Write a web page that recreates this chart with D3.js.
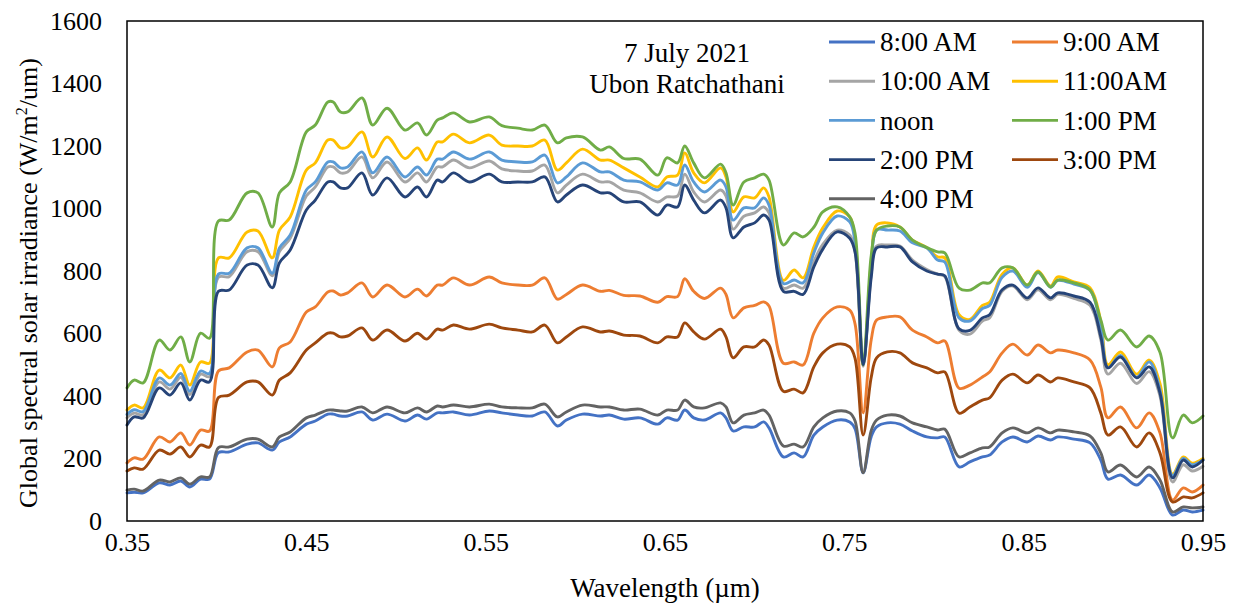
<!DOCTYPE html>
<html><head><meta charset="utf-8">
<script src="https://cdn.jsdelivr.net/npm/d3@7"></script>
<style>body{margin:0;background:#fff}svg{display:block}</style>
</head><body><svg id="c" width="1243" height="607"></svg>
<script>
const wavelength = [
0.350,0.354,0.359,0.368,0.374,0.380,0.385,0.391,0.396,
0.401,0.407,0.417,0.423,0.431,0.435,0.441,
0.450,0.455,0.462,0.465,0.469,0.473,0.481,0.487,0.495,
0.505,0.512,0.517,0.523,0.526,0.532,0.541,
0.552,0.559,0.568,0.576,0.583,0.590,0.595,
0.604,0.614,0.619,0.627,0.636,
0.646,0.651,0.657,0.661,0.666,0.672,
0.681,0.684,0.688,0.694,0.700,0.705,0.708,
0.716,0.722,0.727,0.733,0.738,0.746,0.753,
0.756,0.7605,0.765,
0.768,0.774,0.781,0.788,0.796,0.802,0.806,
0.814,0.820,0.827,0.831,0.838,0.844,
0.852,0.858,0.865,0.869,0.878,0.887,
0.893,0.897,0.904,0.913,0.920,0.926,
0.933,0.939,0.944,0.950];

const am8 = [90,92,90,122,115,128,109,134,134,
219,221,246,250,227,253,269,
310,320,342,342,336,336,349,323,342,
320,339,326,346,346,349,339,
352,346,339,336,349,304,323,
342,336,339,326,330,
310,330,323,355,330,323,
346,330,288,301,301,317,298,
205,218,205,275,301,323,317,
295,154,270,
301,314,310,288,269,266,269,
173,189,205,211,253,269,
253,272,259,269,262,250,
195,134,147,115,147,106,
19,35,29,35];

const am9 = [186,202,198,269,253,282,243,291,288,
480,490,541,547,493,554,573,
669,685,733,736,723,730,762,717,755,
717,742,720,755,755,778,755,
781,762,755,755,778,710,725,
755,735,738,722,720,
700,718,718,775,735,712,
745,725,650,682,690,701,688,
505,509,499,601,650,685,675,
630,346,580,
643,653,653,611,589,570,576,
425,435,461,477,538,566,
531,563,538,547,538,515,
429,330,365,298,346,282,
67,106,93,115];

const am10 = [330,345,340,445,422,460,405,470,462,
780,782,862,862,785,862,905,
1040,1069,1133,1133,1114,1117,1165,1098,1149,
1085,1114,1085,1133,1133,1155,1130,
1152,1127,1120,1120,1139,1050,1075,
1110,1085,1085,1059,1050,
1021,1037,1040,1110,1053,1021,
1059,1040,934,975,986,1005,986,
745,755,745,830,885,931,915,
860,495,790,
880,883,880,835,805,790,782,
610,598,640,650,735,752,
708,740,708,725,712,690,
580,470,505,440,478,400,
125,180,160,175];

const am11 = [355,371,362,483,458,499,435,509,505,
842,842,925,928,842,931,973,
1123,1146,1219,1219,1194,1197,1245,1165,1229,
1160,1194,1155,1213,1213,1238,1210,
1235,1203,1200,1200,1219,1123,1146,
1190,1155,1155,1130,1101,
1069,1101,1107,1178,1114,1082,
1130,1101,989,1037,1034,1066,1037,
770,803,778,877,938,992,973,
900,500,830,
947,954,941,899,875,845,842,
660,645,690,700,790,810,
755,800,752,781,765,746,
640,500,541,470,515,440,
150,205,185,200];

const noon = [341,356,350,458,435,472,415,480,472,
790,793,874,874,793,874,915,
1059,1085,1149,1149,1130,1133,1181,1114,1165,
1101,1133,1107,1158,1158,1181,1158,
1181,1155,1149,1149,1171,1082,1101,
1146,1117,1117,1091,1085,
1059,1082,1075,1139,1085,1053,
1091,1069,963,1002,1002,1034,1011,
760,771,762,858,922,976,957,
890,500,810,
931,931,928,890,874,835,829,
650,640,680,690,780,800,
748,795,748,770,758,738,
620,490,530,460,509,420,
145,200,180,195];

const pm1 = [426,451,442,579,547,589,509,601,585,
960,963,1050,1050,941,1050,1085,
1245,1267,1341,1341,1309,1309,1354,1267,1321,
1251,1274,1235,1283,1290,1306,1277,
1293,1265,1257,1251,1267,1210,1226,
1229,1187,1197,1160,1158,
1107,1162,1146,1200,1146,1098,
1142,1114,1011,1085,1098,1110,1091,
883,922,909,940,989,1005,973,
920,500,850,
931,944,941,899,875,861,858,
745,739,762,762,810,810,
755,797,749,771,762,739,
643,579,611,557,592,540,
266,339,314,336];

const pm2 = [307,333,330,426,403,442,387,451,445,
735,739,819,819,746,826,867,
995,1027,1085,1085,1066,1066,1114,1043,1098,
1037,1069,1037,1091,1085,1114,1085,
1110,1085,1085,1085,1101,1021,1043,
1075,1050,1050,1021,1021,
979,1011,1005,1075,1027,986,
1027,1002,906,941,954,979,963,
735,735,725,813,870,925,905,
860,500,780,
874,877,877,829,800,790,785,
615,610,650,660,740,755,
714,746,714,730,720,700,
590,490,525,458,493,410,
138,195,173,195];

const pm3 = [160,170,166,227,214,237,205,243,237,
395,403,445,445,403,451,474,
547,570,601,601,589,592,618,579,611,
576,601,582,614,611,627,614,
630,618,611,605,627,570,589,
621,605,608,595,592,
570,589,589,634,605,582,
614,589,522,557,557,579,563,
415,422,410,493,538,566,557,
520,275,460,
522,541,538,506,490,474,477,
345,365,387,394,451,470,
442,467,445,458,445,426,
346,275,301,237,282,218,
61,77,74,90];

const pm4 = [99,102,96,131,125,138,118,141,141,
235,237,262,262,237,269,285,
330,339,355,355,352,352,365,346,365,
346,362,349,368,365,371,365,
374,365,362,362,374,333,349,
371,365,365,355,358,
339,355,355,387,365,362,
378,365,314,339,346,355,339,
240,246,237,301,330,352,346,
320,154,290,
323,339,336,314,301,291,294,
205,218,234,237,282,298,
282,298,282,291,285,272,
218,157,179,141,173,131,
29,45,42,45];

const seriesNames = ["8:00 AM","9:00 AM","10:00 AM","11:00AM","noon","1:00 PM","2:00 PM","3:00 PM","4:00 PM"];
const seriesValues = [am8, am9, am10, am11, noon, pm1, pm2, pm3, pm4];
const seriesColors = ["#4472C4","#ED7D31","#A5A5A5","#FFC000","#5B9BD5","#70AD47","#264478","#9E480E","#636363"];
const xTicks = [0.35,0.45,0.55,0.65,0.75,0.85,0.95];
const yTicks = [0,200,400,600,800,1000,1200,1400,1600];

const FONT = "Liberation Serif";
const svg = d3.select("#c");
const L=127, R=1203, T=21, B=521;
const x = d3.scaleLinear().domain([0.35,0.95]).range([L,R]);
const y = d3.scaleLinear().domain([0,1600]).range([B,T]);

const line = d3.line().curve(d3.curveCatmullRom.alpha(0.5))
  .x(d=>x(d[0])).y(d=>y(d[1]));
const g = svg.append("g");
seriesValues.forEach((vals,i)=>{
  const pts = wavelength.map((w,j)=>[w, vals[j]]).filter(p=>p[1]!==undefined);
  g.append("path").attr("d", line(pts)).attr("fill","none")
   .attr("stroke", seriesColors[i]).attr("stroke-width",2.9)
   .attr("stroke-linejoin","round").attr("stroke-linecap","round");
});

svg.append("rect").attr("x",L).attr("y",T).attr("width",R-L).attr("height",B-T)
  .attr("fill","none").attr("stroke","#000").attr("stroke-width",1.5);

function styleText(sel, size){
  sel.attr("font-family", FONT).attr("font-size", size).attr("fill","#000");
}

const xAxis = d3.axisBottom(x).tickValues(xTicks).tickFormat(d3.format(".2f")).tickSize(0).tickPadding(12);
const xa = svg.append("g").attr("transform",`translate(0,${B})`).call(xAxis);
xa.attr("font-family", FONT);
xa.select(".domain").remove();
styleText(xa.selectAll("text"), 26);

const yAxis = d3.axisLeft(y).tickValues(yTicks).tickFormat(d3.format("d")).tickSize(0).tickPadding(25);
const ya = svg.append("g").attr("transform",`translate(${L},0)`).call(yAxis);
ya.attr("font-family", FONT);
ya.select(".domain").remove();
styleText(ya.selectAll("text"), 26);

styleText(svg.append("text").attr("x",665).attr("y",597).attr("text-anchor","middle")
  .text("Wavelength (\u00b5m)"), 27);
const yt = svg.append("text").attr("transform","translate(37,283) rotate(-90)")
  .attr("text-anchor","middle");
styleText(yt, 26);
yt.append("tspan").text("Global spectral solar irradiance (W/m");
yt.append("tspan").attr("font-size",16).attr("dy",-10).text("2");
yt.append("tspan").attr("dy",10).text("/um)");

styleText(svg.append("text").attr("x",687).attr("y",62).attr("text-anchor","middle").text("7 July 2021"), 27);
styleText(svg.append("text").attr("x",687).attr("y",93).attr("text-anchor","middle").text("Ubon Ratchathani"), 27);

const lg = svg.append("g");
seriesNames.forEach((n,i)=>{
  const col = i%2, row = Math.floor(i/2);
  const lx = col===0 ? 829 : 1012;
  const ly = 42 + row*39.2;
  lg.append("line").attr("x1",lx).attr("x2",lx+46).attr("y1",ly).attr("y2",ly)
    .attr("stroke",seriesColors[i]).attr("stroke-width",2.9);
  styleText(lg.append("text").attr("x",lx+51).attr("y",ly).attr("dy","0.34em").text(n), 27);
});
</script></body></html>
